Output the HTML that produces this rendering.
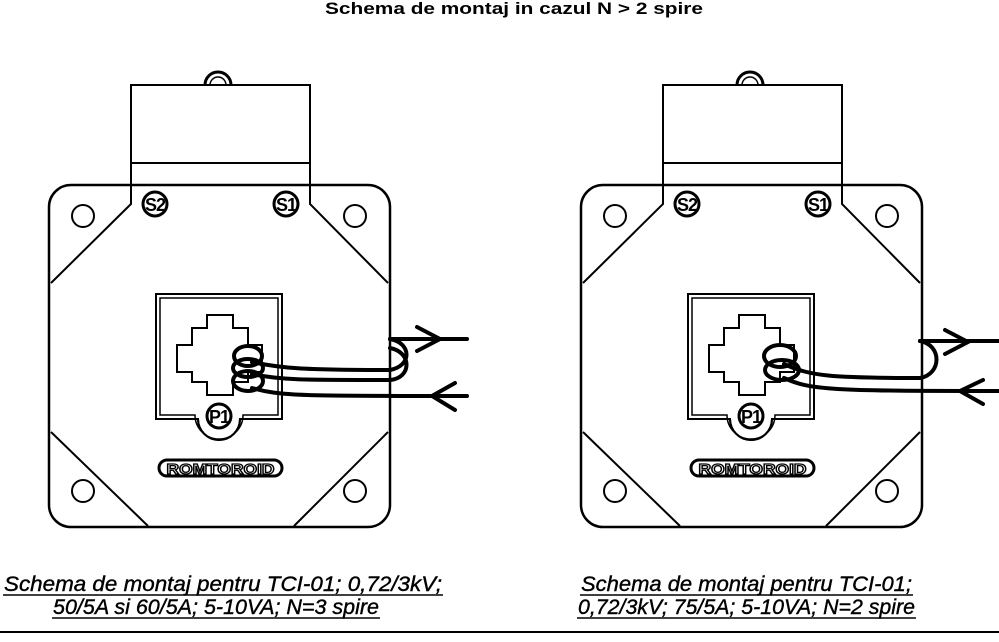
<!DOCTYPE html>
<html><head><meta charset="utf-8"><style>
html,body{margin:0;padding:0;background:#fff;width:999px;height:642px;overflow:hidden}
svg{display:block}
.cap{font-family:"Liberation Sans",sans-serif;font-style:italic;font-size:21px;stroke:#000;stroke-width:0.4}
</style></head><body>
<svg width="999" height="642" viewBox="0 0 999 642" xmlns="http://www.w3.org/2000/svg">
<defs>
<g id="dev" fill="none" stroke="#000">
  <path d="M205,85 A13,13 0 0 1 231,85" stroke-width="3"/>
  <path d="M210,85 A8,8 0 0 1 226,85" stroke-width="1.5"/>
  <rect x="131" y="85" width="179" height="100" stroke-width="2" fill="#fff"/>
  <line x1="131" y1="163" x2="310" y2="163" stroke-width="2"/>
  <rect x="49" y="185" width="341" height="342" rx="22" stroke-width="2.5" fill="#fff"/>
  <path d="M131,185 V204 L51,283 M310,185 V204 L388,283 M51,432 L148,526 M388,432 L294,526" stroke-width="2"/>
  <circle cx="83" cy="216" r="11" stroke-width="2"/>
  <circle cx="355" cy="216" r="11" stroke-width="2"/>
  <circle cx="83" cy="491" r="11" stroke-width="2"/>
  <circle cx="355" cy="491" r="11" stroke-width="2"/>
  <circle cx="155" cy="204" r="12" stroke-width="3"/>
  <circle cx="286" cy="204" r="12" stroke-width="3"/>
  <text x="155" y="211" font-family="Liberation Sans,sans-serif" font-weight="bold" font-size="18" text-anchor="middle" fill="#000" stroke="none" letter-spacing="-1">S2</text>
  <text x="286" y="211" font-family="Liberation Sans,sans-serif" font-weight="bold" font-size="18" text-anchor="middle" fill="#000" stroke="none" letter-spacing="-1">S1</text>
  <path d="M156,294 H282 V419 H240 A21,21 0 0 1 198,419 H156 Z" stroke-width="2"/>
  <path d="M160,298 H278 V415 H243 A24,24 0 0 1 195,415 H160 Z" stroke-width="1.5"/>
  <path d="M198,419 A21,21 0 0 0 240,419" stroke-width="2"/>
  <circle cx="219" cy="416" r="12" stroke-width="3" fill="#fff"/>
  <text x="219" y="423" font-family="Liberation Sans,sans-serif" font-weight="bold" font-size="18" text-anchor="middle" fill="#000" stroke="none" letter-spacing="-1">P1</text>
  <path d="M207,315 H233 V328 H248 V345 H262 V372 H248 V382 H233 V395 H207 V382 H192 V372 H177 V345 H192 V328 H207 Z" stroke-width="2"/>
  <rect x="159" y="460" width="123" height="16" rx="8" stroke-width="3"/>
  <text x="220.5" y="474" font-family="Liberation Sans,sans-serif" font-weight="bold" font-size="15" text-anchor="middle" fill="#fff" stroke="#000" stroke-width="1.3" textLength="108" lengthAdjust="spacingAndGlyphs">ROMTOROID</text>
</g>
</defs>
<text x="514" y="14" font-family="Liberation Sans,sans-serif" font-weight="bold" font-size="17" text-anchor="middle" textLength="378" lengthAdjust="spacingAndGlyphs">Schema de montaj in cazul N &gt; 2 spire</text>
<use href="#dev"/>
<use href="#dev" transform="translate(532,0)"/>
<g fill="none" stroke="#000" stroke-width="4" stroke-linecap="round">
  <ellipse cx="248" cy="356" rx="14" ry="10"/>
  <ellipse cx="248" cy="368" rx="15" ry="9"/>
  <ellipse cx="248" cy="381" rx="15" ry="10"/>
  <path d="M252,362 C280,368 300,370 390,370"/>
  <path d="M252,374 C280,380 300,380 390,380"/>
  <path d="M252,388 C280,396 300,396 467,396"/>
  <path d="M390,339 C412,343 412,366 390,370"/>
  <path d="M390,348 C412,352 412,378 390,380"/>
  <path d="M390,339 H467"/>
  <path d="M417,327 L440,339 L417,351"/>
  <path d="M455,383 L432,396 L455,410"/>
</g>
<g fill="none" stroke="#000" stroke-width="4" stroke-linecap="round">
  <ellipse cx="780" cy="356" rx="16" ry="11"/>
  <ellipse cx="782" cy="370" rx="17" ry="10"/>
  <path d="M784,364 C810,376 830,378 920,378"/>
  <path d="M784,378 C810,390 830,391 999,391"/>
  <path d="M920,341 C942,345 942,374 920,378"/>
  <path d="M920,341 H999"/>
  <path d="M945,330 L968,342 L945,354"/>
  <path d="M983,380 L960,391 L983,404"/>
</g>
<text class="cap" x="4" y="591" textLength="438" lengthAdjust="spacingAndGlyphs">Schema de montaj pentru TCI-01; 0,72/3kV;</text>
<text class="cap" x="53" y="614" textLength="326" lengthAdjust="spacingAndGlyphs">50/5A si 60/5A; 5-10VA; N=3 spire</text>
<text class="cap" x="581" y="591" textLength="331" lengthAdjust="spacingAndGlyphs">Schema de montaj pentru TCI-01;</text>
<text class="cap" x="578" y="614" textLength="337" lengthAdjust="spacingAndGlyphs">0,72/3kV; 75/5A; 5-10VA; N=2 spire</text>
<g stroke="#000" stroke-width="1.5">
<line x1="3" y1="595" x2="443" y2="595"/>
<line x1="52" y1="618" x2="380" y2="618"/>
<line x1="580" y1="595" x2="913" y2="595"/>
<line x1="577" y1="618" x2="916" y2="618"/>
</g>
<line x1="0" y1="632" x2="999" y2="632" stroke="#000" stroke-width="2"/>
</svg>
</body></html>
